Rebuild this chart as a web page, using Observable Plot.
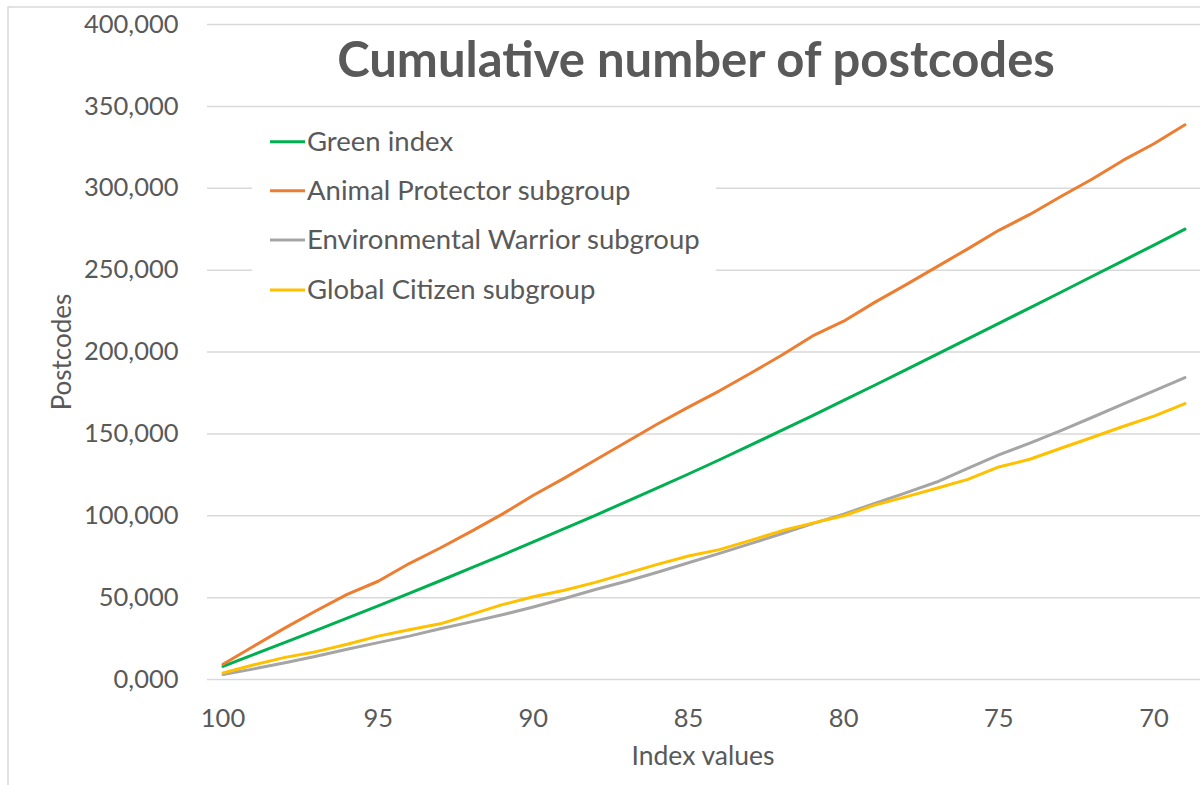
<!DOCTYPE html>
<html>
<head>
<meta charset="utf-8">
<script src="https://cdn.jsdelivr.net/npm/d3@7"></script>
<script src="https://cdn.jsdelivr.net/npm/@observablehq/plot@0.6"></script>
<style>
  html, body { margin: 0; padding: 0; background: #fff; }
  #chart svg { display: block; }
</style>
</head>
<body>
<div id="chart"></div>
<script>
// ---- Data ----
const indexValues = [100, 99, 98, 97, 96, 95, 94, 93, 92, 91, 90, 89, 88, 87, 86, 85,
                     84, 83, 82, 81, 80, 79, 78, 77, 76, 75, 74, 73, 72, 71, 70, 69];

const greenIndex = [8000, 15300, 22650, 30050, 37500, 45000, 52600, 60300, 68100, 76000,
                    84000, 92100, 100300, 108600, 117000, 125500, 134200, 143100, 152100, 161200,
                    170400, 179700, 189100, 198500, 208000, 217500, 227000, 236500, 246100, 255700,
                    265300, 275000];

const animalProtector = [9300, 20500, 31500, 42000, 52000, 60000, 70800, 80300, 90500, 101000,
                         112500, 123000, 134000, 145000, 156000, 166300, 176300, 187000, 198000, 209800,
                         218800, 230300, 241000, 252000, 263000, 274300, 284000, 295000, 305500, 317000,
                         327200, 338800];

const environmentalWarrior = [3000, 6500, 10200, 14200, 18500, 22500, 26500, 31000, 35200, 39500,
                              44300, 49500, 55000, 60000, 65500, 71300, 77000, 83000, 89000, 95200,
                              101000, 107500, 114000, 120600, 128900, 137200, 144400, 152000, 160000, 168200,
                              176300, 184400];

const globalCitizen = [4000, 9000, 13500, 17000, 21500, 26500, 30400, 34000, 39800, 45700,
                       50500, 54500, 59300, 64800, 70300, 75400, 79300, 85000, 90800, 95500,
                       100000, 106500, 111500, 116800, 122200, 129800, 134500, 141200, 147800, 154500,
                       160800, 168500];

const seriesNames = ["Green index", "Animal Protector subgroup", "Environmental Warrior subgroup", "Global Citizen subgroup"];
const seriesColors = ["#00B050", "#ED7D31", "#A5A5A5", "#FFC000"];
const xTicks = [100, 95, 90, 85, 80, 75, 70];
const yTicks = [0, 50000, 100000, 150000, 200000, 250000, 300000, 350000, 400000];

const titleText = "Cumulative number of postcodes";
const xLabel = "Index values";
const yLabel = "Postcodes";

// ---- Build long table ----
const seriesValues = [greenIndex, animalProtector, environmentalWarrior, globalCitizen];
const data = [];
seriesNames.forEach((name, si) => {
  indexValues.forEach((iv, i) => data.push({series: name, index: iv, value: seriesValues[si][i]}));
});

const FONT = "Lato, 'Open Sans', sans-serif";
const TEXT = "#595959";

const chart = Plot.plot({
  width: 1200,
  height: 785,
  marginLeft: 207,
  marginRight: 0,
  marginTop: 24,
  marginBottom: 106,
  style: {fontFamily: FONT, fontSize: "25px", color: TEXT, background: "#fff", overflow: "visible"},
  x: {domain: [100.5, 68.5]},
  y: {domain: [0, 400000]},
  color: {domain: seriesNames, range: seriesColors},
  marks: [
    Plot.ruleY(yTicks, {stroke: "#D9D9D9", strokeWidth: 1.5}),
    Plot.axisX({ticks: xTicks, tickSize: 0, tickPadding: 29, label: null, tickFormat: d => String(d), fontSize: 25.5}),
    Plot.axisY({ticks: yTicks, tickSize: 0, tickPadding: 29, label: null, tickFormat: d3.format("05,"), fontSize: 25.5}),
    Plot.line(data, {x: "index", y: "value", z: "series", stroke: "series", strokeWidth: 3, strokeLinejoin: "round", strokeLinecap: "round"})
  ]
});

document.getElementById("chart").appendChild(chart);

const svg = d3.select(chart);

// chart area border
svg.append("rect")
  .attr("x", 8).attr("y", 7).attr("width", 1300).attr("height", 900)
  .attr("fill", "none").attr("stroke", "#D9D9D9").attr("stroke-width", 1.5);

// title
svg.append("text")
  .attr("x", 696).attr("y", 77)
  .attr("text-anchor", "middle")
  .attr("font-family", FONT).attr("font-weight", "bold").attr("font-size", 49)
  .attr("fill", TEXT)
  .text(titleText);

// axis titles
svg.append("text")
  .attr("x", 703).attr("y", 765)
  .attr("text-anchor", "middle")
  .attr("font-family", FONT).attr("font-size", 26.5).attr("fill", TEXT)
  .text(xLabel);

svg.append("text")
  .attr("transform", "translate(71,352) rotate(-90)")
  .attr("text-anchor", "middle")
  .attr("font-family", FONT).attr("font-size", 26).attr("fill", TEXT)
  .text(yLabel);

// legend (white box hides gridlines, as in the reference)
const lg = svg.append("g").attr("text-anchor", "start");
lg.append("rect").attr("x", 252).attr("y", 112).attr("width", 464).attr("height", 205).attr("fill", "#fff");
const rowY = [141.7, 190.8, 240, 290];
seriesNames.forEach((name, i) => {
  lg.append("line")
    .attr("x1", 270).attr("x2", 305).attr("y1", rowY[i]).attr("y2", rowY[i])
    .attr("stroke", seriesColors[i]).attr("stroke-width", 3);
  lg.append("text")
    .attr("x", 307).attr("y", rowY[i] + 8.8)
    .attr("text-anchor", "start")
    .attr("font-family", FONT).attr("font-size", 27.5).attr("fill", TEXT)
    .text(name);
});
</script>
</body>
</html>
